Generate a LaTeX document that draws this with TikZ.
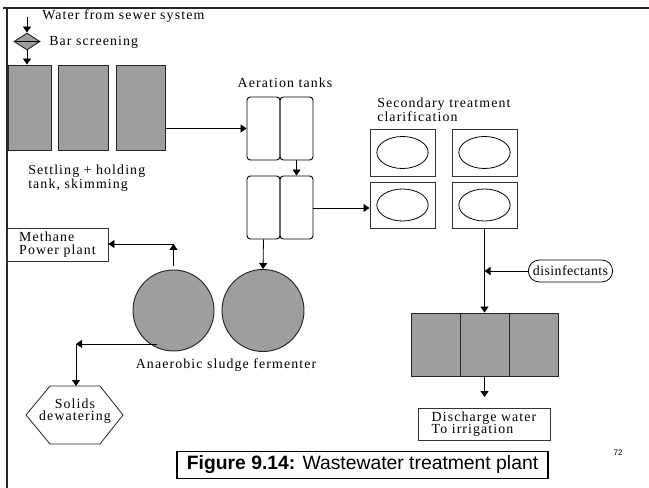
\documentclass[tikz,border=0pt]{standalone}
\usepackage{fontspec}
\setmainfont{Liberation Serif}[LetterSpace=8]
\newfontfamily\capfont{Liberation Sans}
\usetikzlibrary{arrows.meta,shapes.geometric,shapes.misc}
\definecolor{tankgray}{RGB}{158,158,158}
\begin{document}
\begin{tikzpicture}[x=0.75pt,y=-0.75pt,
  font=\fontsize{10.4}{9.4}\selectfont,
  arr/.style={draw=black, line width=0.6pt, -{Triangle[length=4.5pt,width=6pt]}},
  ln/.style={draw=black, line width=0.6pt},
  tank/.style={draw=black!85, line width=0.7pt, fill=tankgray, inner sep=0pt},
  aer/.style={draw=black, line width=0.7pt, rounded corners=2.5pt, inner sep=0pt, minimum width=24.75pt, minimum height=47.25pt},
  clar/.style={draw=black!80, line width=0.7pt, inner sep=0pt, minimum width=48.75pt},
  oval/.style={ellipse, draw=black, line width=0.6pt, minimum width=38.5pt, minimum height=24pt, inner sep=0pt},
  lbl/.style={inner sep=0pt, align=left},
  box/.style={draw=black!80, line width=0.7pt, align=left, inner sep=2pt},
  frame/.style={draw=black!85, line width=1.5pt}
]
\useasboundingbox[fill=white] (0,0) rectangle (649,488);
% frame
\draw[frame] (3,8) -- (649,8);
\draw[frame] (7,7.5) -- (7,488);

% inlet and bar screening
\node[diamond, tank, minimum width=19.5pt, minimum height=12.75pt] (dia) at (27,41.5) {};
\draw[ln] (dia.west) -- (dia.east);
\coordinate (win) at (27,17);
\draw[arr] (win) -- (dia.north);
\node[lbl, anchor=west] (wlbl) at (42,16) {Water from sewer system};
\node[lbl, anchor=west] (blbl) at (49,42) {Bar screening};

% settling tanks
\node[tank, minimum width=32.25pt, minimum height=63.75pt] (s1) at (29.5,107.5) {};
\node[tank, minimum width=37.5pt, minimum height=63.75pt] (s2) at (83,107.5) {};
\node[tank, minimum width=36.75pt, minimum height=63.75pt] (s3) at (140.5,107.5) {};
\draw[arr] (dia.south) -- (dia.south |- s1.north);
\node[lbl, anchor=north west] (slbl) at (28,165) {Settling + holding\\tank, skimming};

% aeration tanks
\node[aer] (a1) at (263.5,128.5) {};
\node[aer] (a2) at (296.5,128.5) {};
\node[aer] (a3) at (263.5,207.5) {};
\node[aer] (a4) at (296.5,207.5) {};
\node[lbl] (albl) at (285,83) {Aeration tanks};
\draw[arr] (s3.east |- a1.west) -- (a1.west);
\draw[arr] (a2.south) -- (a4.north);

% secondary clarification
\node[clar, minimum height=35.25pt] (c1) at (402.5,152.5) {};
\node[clar, minimum height=35.25pt] (c2) at (484.5,152.5) {};
\node[clar, minimum height=34.5pt] (c3) at (402.5,205) {};
\node[clar, minimum height=34.5pt] (c4) at (484.5,205) {};
\node[oval] (e1) at (c1.center) {};
\node[oval] (e2) at (c2.center) {};
\node[oval] (e3) at (c3.center) {};
\node[oval] (e4) at (c4.center) {};
\node[lbl, anchor=north west] (clbl) at (377,98) {Secondary treatment\\clarification};
\draw[arr] (a4.east |- 0,208) -- (c3.west |- 0,208);

% disinfection and final tanks
\node[tank, minimum width=36.75pt, minimum height=47.25pt] (t1) at (435.5,344.5) {};
\node[tank, minimum width=36.75pt, minimum height=47.25pt] (t2) at (484.5,344.5) {};
\node[tank, minimum width=36.75pt, minimum height=47.25pt] (t3) at (533.5,344.5) {};
\draw[arr] (c4.south) -- (c4.south |- t2.north);
\node[draw=black, line width=0.6pt, rounded rectangle, minimum width=65.25pt, minimum height=16.5pt, inner sep=1pt, font=\fontsize{10.4}{9.4}\selectfont\addfontfeature{LetterSpace=3}] (dsf) at (570.5,271) {disinfectants};
\draw[arr] (dsf.west) -- (dsf.west -| c4.south);
\coordinate (dtip) at (484.5,397);
\draw[arr] (t2.south) -- (dtip);
\node[box, minimum width=99pt, minimum height=24pt] (dis) at (484,424) {Discharge water\\To irrigation};

% anaerobic fermenters
\node[circle, tank, minimum size=60.75pt] (r1) at (173.5,310.5) {};
\node[circle, tank, minimum size=61.5pt] (r2) at (263,310.5) {};
\draw[arr] (a3.south) -- (r2.north);
\node[lbl] (flbl) at (226,365) {Anaerobic sludge fermenter};

% methane
\node[box, minimum width=75.75pt, minimum height=24.75pt] (meth) at (57.5,244.5) {Methane\\Power plant};
\coordinate (m0) at (173.5,266);
\coordinate (m1) at (173.5,244);
\draw[arr] (m0) -- (m1);
\draw[arr] (m1) -- (m1 -| meth.east);

% solids dewatering
\node[inner sep=0pt, align=center] (hex) at (75,411) {Solids\\dewatering};
\draw[draw=black!85, line width=0.6pt] (50,386) -- (100,386) -- (123,415) -- (100,444) -- (50,444) -- (26,415) -- cycle;
\coordinate (sf) at (157,344);
\coordinate (sc) at (76,344);
\coordinate (htop) at (76,386);
\draw[arr] (sf) -- (sc);
\draw[arr] (sc) -- (htop);

% caption
\node[draw=black, line width=0.8pt, minimum width=278.25pt, minimum height=20pt, inner sep=2pt, font=\capfont\fontsize{14.5}{16}\selectfont] (cap) at (362.5,465) {\textbf{Figure 9.14:} Wastewater treatment plant};
\node[font=\capfont\fontsize{6}{7}\selectfont, inner sep=0pt] (pg) at (618,453) {72};
\end{tikzpicture}
\end{document}
